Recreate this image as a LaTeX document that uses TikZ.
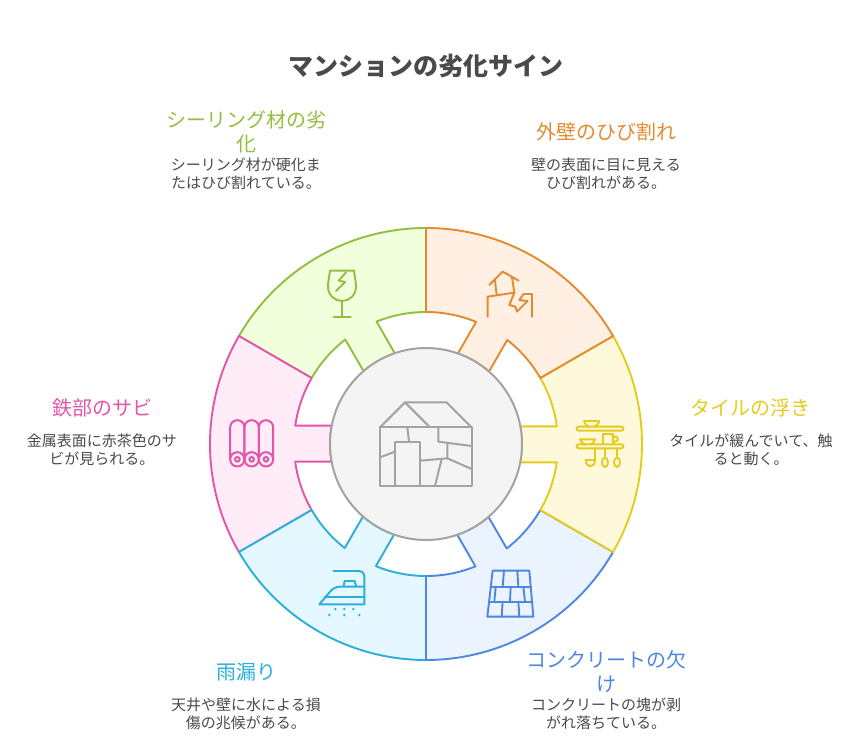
\documentclass[tikz,border=0pt]{standalone}
\usepackage{fontspec}
\usepackage{xcolor}
\setmainfont{Noto Sans CJK JP}
\definecolor{greenline}{HTML}{93BE3F}
\definecolor{greenfill}{HTML}{F2FFDC}
\definecolor{pinkline}{HTML}{E255AB}
\definecolor{pinkfill}{HTML}{FFECF7}
\definecolor{cyanline}{HTML}{2AAEDC}
\definecolor{cyanfill}{HTML}{E6F8FF}
\definecolor{blueline}{HTML}{4F86E0}
\definecolor{bluefill}{HTML}{EBF3FF}
\definecolor{yellowline}{HTML}{E3CC1D}
\definecolor{yellowfill}{HTML}{FFF9DB}
\definecolor{orangeline}{HTML}{E38A2F}
\definecolor{orangefill}{HTML}{FFF0E3}
\definecolor{hubline}{HTML}{A3A3A3}
\definecolor{hubfill}{HTML}{F4F4F4}
\definecolor{bodytext}{HTML}{4A4A4A}

\begin{document}
\begin{tikzpicture}[x=1pt,y=1pt,
   titletxt/.style={text=bodytext,font=\fontsize{25}{30}\selectfont\bfseries},
   headtxt/.style={align=center,font=\fontsize{20}{23.5}\selectfont},
   bodytxt/.style={align=center,text=bodytext,font=\fontsize{15}{18}\selectfont},
   icon/.style={x=0.3333pt,y=-0.3333pt,line width=1.9pt,line join=round,line cap=round}]
   \useasboundingbox (-426,-304) rectangle (432,444);

   % wheel
   \foreach \ang/\nm in {60/green,120/pink,180/cyan,240/blue,300/yellow,0/orange}{
      \draw[rotate=\ang,draw=\nm line,fill=\nm fill,line width=1.9pt,line join=round]
         (90:216) arc[start angle=90,end angle=30,radius=216]
         -- (30:132) arc[start angle=30,end angle=52,radius=132]
         -- (49:96) arc[start angle=49,end angle=70.6,radius=96]
         -- (67.7:132) arc[start angle=67.7,end angle=90,radius=132] -- cycle;
   }
   \node[circle,draw=hubline,fill=hubfill,line width=2pt,minimum size=192pt,inner sep=0pt] (hub) at (0,0) {};

   % house
   \begin{scope}[shift={(-56pt,54pt)},icon,draw=hubline,line width=2pt]
      \draw (30,112) rectangle (305,287);
      \draw (30,112) -- (105,37) -- (230,37) -- (305,112);
      \draw (105,37) -- (180,112);
      \draw (112,112) -- (117,155);
      \draw (75,287) -- (75,155) -- (150,155) -- (150,287);
      \draw (30,202) -- (75,185);
      \draw (150,212) -- (232,205);
      \draw (215,207) -- (195,287);
      \draw (205,112) -- (205,155) -- (305,168);
      \draw (232,160) -- (232,205) -- (305,237);
   \end{scope}

   % orange icon
   \begin{scope}[shift={(0pt,224pt)},icon,draw=orangeline]
      \draw (190,195) -- (230,155) -- (278,182);
      \draw (207,182) -- (212,225);
      \draw (258,172) -- (265,218);
      \draw (185,290) -- (185,230) -- (265,218) -- (250,255) -- (268,260) -- (273,275)
         -- (305,243) -- (280,240) -- (293,222) -- (318,222) -- (318,290);
   \end{scope}

   % yellow icon
   \begin{scope}[shift={(144pt,29pt)},icon,draw=yellowline]
      \draw[rounded corners=2pt] (20,35) rectangle (160,47);
      \draw[rounded corners=2pt] (20,88) rectangle (160,100);
      \draw (42,18) -- (88,18) .. controls (85,28) and (78,34) .. (72,35);
      \draw (42,18) .. controls (45,28) and (52,34) .. (58,35);
      \draw (30,73) -- (76,73) .. controls (73,82) and (66,88) .. (60,88);
      \draw (30,73) .. controls (33,82) and (40,88) .. (46,88);
      \draw (98,88) -- (98,58) -- (128,58) -- (128,88);
      \draw (128,65) -- (136,65) .. controls (146,65) and (146,80) .. (136,80) -- (128,80);
      \draw (75,100) -- (75,135) .. controls (75,160) and (47,160) .. (47,135) -- (75,135);
      \draw (105,100) -- (105,128);
      \draw (105,142) ellipse[x radius=9,y radius=14];
      \draw (141,100) -- (141,128);
      \draw (141,142) ellipse[x radius=9,y radius=14];
   \end{scope}

   % blue icon
   \begin{scope}[shift={(54pt,-121pt)},icon,draw=blueline]
      \draw (38,17) -- (148,17) -- (160,155) -- (22,155) -- cycle;
      \draw (33,65) -- (153,65);
      \draw (28,110) -- (157,110);
      \draw (72,17) -- (68,65);
      \draw (112,17) -- (115,65);
      \draw (47,65) -- (43,110);
      \draw (92,65) -- (90,110);
      \draw (130,65) -- (135,110);
      \draw (68,110) -- (65,155);
      \draw (115,110) -- (118,155);
   \end{scope}

   % cyan icon
   \begin{scope}[shift={(-114pt,-121pt)},icon,draw=cyanline]
      \draw (65,18) -- (140,18) .. controls (150,18) and (157,25) .. (157,35) -- (157,118) -- (22,118)
         -- (50,85) .. controls (60,72) and (70,65) .. (85,65) -- (157,65);
      \draw (95,62) -- (98,48) -- (128,48) -- (132,62);
      \draw (38,97) -- (157,97);
      \foreach \dx/\dy in {70/132,97/132,124/132,52/150,97/150,142/150}
         \fill[cyanline] (\dx,\dy) circle[radius=4];
   \end{scope}

   % pink icon
   \begin{scope}[shift={(-204pt,29pt)},icon,draw=pinkline,line width=2pt]
      \foreach \rx in {46,89,132}{
         \draw (\rx-21.5,133) -- (\rx-21.5,37) arc[start angle=180,end angle=360,radius=21.5] -- (\rx+21.5,133);
         \draw (\rx,133) circle[radius=21.5];
         \draw (\rx,133) circle[radius=7];
      }
   \end{scope}

   % green icon
   \begin{scope}[shift={(-226pt,224pt)},icon,draw=greenline]
      \draw (390,152) -- (462,152) .. controls (464,170) and (468,185) .. (468,200)
         .. controls (468,225) and (448,243) .. (426,243)
         .. controls (404,243) and (384,225) .. (384,200)
         .. controls (384,185) and (388,170) .. (390,152);
      \draw (426,243) -- (426,291);
      \draw (401,291) -- (452,291);
      \draw (438,157) -- (416,182) -- (436,186) -- (408,213);
   \end{scope}

   \node[titletxt] (title) at (0,378) {マンションの劣化サイン};
   \node[headtxt,text=greenline] (sealhead) at (-179,312) {シーリング材の劣\\化};
   \node[bodytxt] (sealbody) at (-180,270) {シーリング材が硬化ま\\たはひび割れている。};
   \node[headtxt,text=orangeline] (wallhead) at (180,312.5) {外壁のひび割れ};
   \node[bodytxt] (wallbody) at (180,270) {壁の表面に目に見える\\ひび割れがある。};
   \node[headtxt,text=yellowline] (tilehead) at (324,36) {タイルの浮き};
   \node[bodytxt] (tilebody) at (325,-6) {タイルが緩んでいて、触\\ると動く。};
   \node[headtxt,text=blueline] (concretehead) at (180,-227.5) {コンクリートの欠\\け};
   \node[bodytxt] (concretebody) at (180,-270) {コンクリートの塊が剥\\がれ落ちている。};
   \node[headtxt,text=cyanline] (leakhead) at (-179,-227.5) {雨漏り};
   \node[bodytxt] (leakbody) at (-180,-270) {天井や壁に水による損\\傷の兆候がある。};
   \node[headtxt,text=pinkline] (rusthead) at (-323,36) {鉄部のサビ};
   \node[bodytxt] (rustbody) at (-324,-6) {金属表面に赤茶色のサ\\ビが見られる。};
\end{tikzpicture}
\end{document}
